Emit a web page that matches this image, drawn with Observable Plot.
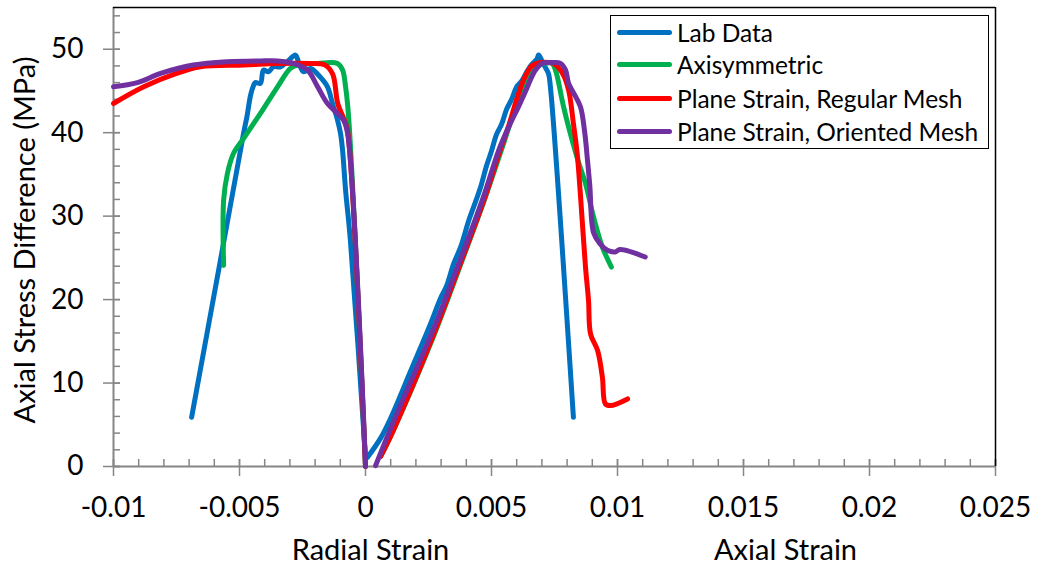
<!DOCTYPE html>
<html><head><meta charset="utf-8">
<script src="https://cdn.jsdelivr.net/npm/d3@7"></script>
<script src="https://cdn.jsdelivr.net/npm/@observablehq/plot@0.6"></script>
<style>
body{margin:0;background:#fff;font-family:Lato,"Open Sans",sans-serif;}
#wrap{position:relative;width:1037px;height:567px;}
#legend{position:absolute;left:610px;top:15px;width:379px;height:134px;border:1.5px solid #000;background:#fff;box-sizing:border-box;}
.row{position:absolute;left:0;height:32px;display:flex;align-items:center;}
.sw{width:55px;height:5px;border-radius:3px;margin-left:6px;margin-right:5px;}
.lab{font-size:24.5px;color:#000;white-space:nowrap;}
</style></head><body>
<div id="wrap"><div id="legend"></div></div>
<script>
// ---- data ----
const seriesNames = ["Lab Data","Axisymmetric","Plane Strain, Regular Mesh","Plane Strain, Oriented Mesh"];
const seriesColors = ["#0070C0","#00B050","#FF0000","#7030A0"];

const labRadial = [[-0.0069,5.9],[-0.0058,24.0],[-0.00484,39.9],[-0.0047,42.0],[-0.00456,44.5],[-0.00445,45.6],[-0.00437,46.0],[-0.00417,45.9],[-0.00405,47.5],[-0.00385,47.3],[-0.00365,47.9],[-0.00337,47.9],[-0.0031,48.5],[-0.00278,49.3],[-0.00266,48.5],[-0.00246,47.3],[-0.00218,47.7],[-0.00187,46.9],[-0.00151,45.5],[-0.00131,43.5],[-0.00111,41.5],[-0.00099,39.9],[-0.00091,37.9],[-0.00079,33.1],[-0.0006,27.1],[0,1.1]];
const labAxial = [[0.00008,1.1],[0.0006,3.4],[0.001,5.8],[0.0018,11.5],[0.0025,16.5],[0.003,20.3],[0.0032,21.5],[0.0035,24.3],[0.0038,26.5],[0.0041,29.5],[0.0044,32.0],[0.0046,33.8],[0.0048,36.0],[0.005,37.8],[0.0052,39.8],[0.0054,41.0],[0.0056,42.8],[0.0058,44.0],[0.006,45.5],[0.0062,46.2],[0.0064,47.3],[0.0066,48.2],[0.0068,48.8],[0.00687,49.3],[0.007,48.6],[0.00714,47.8],[0.00726,47.1],[0.00734,45.4],[0.00825,5.9]];

const axiRadial = [[-0.00563,24.1],[-0.00563,31.9],[-0.00548,35.1],[-0.00524,37.5],[-0.00484,39.3],[-0.00417,42.3],[-0.00349,45.5],[-0.00298,47.7],[-0.0027,48.1],[-0.0019,48.3],[-0.00111,48.3],[-0.00091,47.5],[-0.00079,45.5],[-0.00067,41.9],[0,0]];
const axiAxial = [[0.0006,1.2],[0.0011,4.3],[0.0027,15.6],[0.0037,23.6],[0.0047,31.8],[0.0054,38.0],[0.0059,42.5],[0.0063,45.5],[0.0067,47.8],[0.0071,48.3],[0.0074,48.3],[0.00754,47.5],[0.00786,43.1],[0.00821,39.0],[0.00845,36.5],[0.00873,33.9],[0.00905,29.9],[0.0094,26.3],[0.00976,23.9]];

const regRadial = [[-0.01,43.5],[-0.0088,45.5],[-0.0075,47.1],[-0.00655,47.9],[-0.0048,48.1],[-0.0035,48.3],[-0.0022,48.3],[-0.0016,48.1],[-0.0013,47.0],[-0.0011,43.5],[-0.0008,41.2],[-0.0007,40.0],[0,0]];
const regAxial = [[0.0006,1.2],[0.0011,4.3],[0.0027,15.8],[0.0037,23.8],[0.0047,31.9],[0.0053,37.5],[0.0057,41.0],[0.006,44.0],[0.0063,46.5],[0.0066,48.0],[0.0069,48.4],[0.0073,48.4],[0.00746,48.3],[0.00782,47.1],[0.00806,45.1],[0.00825,41.1],[0.0084,37.5],[0.00853,32.5],[0.00873,23.9],[0.00885,19.9],[0.00893,15.9],[0.00921,13.9],[0.0094,10.7],[0.00952,7.5],[0.00972,7.3],[0.0104,8.1]];

const oriRadial = [[-0.01,45.5],[-0.00905,46.0],[-0.00813,47.1],[-0.00683,48.1],[-0.00548,48.5],[-0.00417,48.6],[-0.00349,48.6],[-0.00286,48.3],[-0.0023,47.5],[-0.0019,45.5],[-0.00151,43.5],[-0.00111,42.3],[-0.00087,41.5],[-0.00071,39.9],[0,0]];
const oriAxial = [[0.0004,0.1],[0.0011,5.3],[0.0027,16.5],[0.0037,24.3],[0.00468,32.3],[0.0053,38.0],[0.0057,40.8],[0.0061,43.3],[0.0064,45.3],[0.0067,47.3],[0.007,48.3],[0.00742,48.4],[0.00774,48.3],[0.00794,47.5],[0.00806,45.9],[0.00825,44.8],[0.00853,43.1],[0.0087,40.0],[0.0088,37.0],[0.0089,33.7],[0.00905,28.0],[0.0093,26.7],[0.0096,25.9],[0.0099,25.7],[0.0101,26.0],[0.0111,25.1]];

const xDomain = [-0.01, 0.025];
const yDomain = [0, 55];
const xTicks = [-0.01,-0.005,0,0.005,0.01,0.015,0.02,0.025];
const xTickLabels = ["-0.01","-0.005","0","0.005","0.01","0.015","0.02","0.025"];
const yTicks = [0,10,20,30,40,50];
const yTickLabels = ["0","10","20","30","40","50"];
const xMinor = d3.range(-10, 26).map(i => i / 1000);
const yMinor = d3.range(0, 56, 2);
const yTitle = "Axial Stress Difference (MPa)";
const xTitle1 = "Radial Strain";
const xTitle2 = "Axial Strain";

// ---- build table ----
const segs = [
  [0, labRadial],[0, labAxial],
  [1, axiRadial],[1, axiAxial],
  [2, regRadial],[2, regAxial],
  [3, oriRadial],[3, oriAxial]
];
const rows = [];
segs.forEach(([s, pts], k) => pts.forEach(([x, y]) => rows.push({series: seriesNames[s], seg: k, x, y})));

const W = 1037, H = 567, mL = 113, mR = 42, mT = 7, mB = 101;
const plotW = W - mL - mR, plotH = H - mT - mB;
const grey = "#868686";
const tickFont = 28, titleFont = 29;
const xLab = new Map(xTicks.map((t, i) => [t, xTickLabels[i]]));
const yLab = new Map(yTicks.map((t, i) => [t, yTickLabels[i]]));

const chart = Plot.plot({
  width: W, height: H,
  marginLeft: mL, marginRight: mR, marginTop: mT, marginBottom: mB,
  x: {domain: xDomain},
  y: {domain: yDomain},
  color: {domain: seriesNames, range: seriesColors},
  style: {fontFamily: "Lato, 'Open Sans', sans-serif", fontSize: tickFont + "px", color: "#000", background: "#fff"},
  marks: [
    Plot.tickX(xMinor, {x: d => d, stroke: grey, strokeWidth: 1.5, insetTop: plotH - 7}),
    Plot.tickX(xTicks, {x: d => d, stroke: grey, strokeWidth: 1.5, insetTop: plotH - 7, insetBottom: -10}),
    Plot.tickY(yMinor, {y: d => d, stroke: grey, strokeWidth: 1.5, insetRight: plotW - 7}),
    Plot.tickY(yTicks, {y: d => d, stroke: grey, strokeWidth: 1.5, insetRight: plotW - 7, insetLeft: -10}),
    Plot.ruleX([xDomain[0]], {stroke: grey, strokeWidth: 2}),
    Plot.ruleY([yDomain[0]], {stroke: grey, strokeWidth: 2}),
    Plot.ruleY([yDomain[1]], {stroke: "#000", strokeWidth: 1.5}),
    Plot.ruleX([xDomain[1]], {stroke: "#000", strokeWidth: 1.5}),
    Plot.axisX(xTicks, {tickSize: 0, tickPadding: 31, tickFormat: d => xLab.get(d), fontSize: tickFont, label: null}),
    Plot.axisY(yTicks, {tickSize: 0, tickPadding: 30, tickFormat: d => yLab.get(d), fontSize: tickFont, label: null}),
    Plot.line(rows, {x: "x", y: "y", z: "seg", stroke: "series", strokeWidth: 5, strokeLinejoin: "round", strokeLinecap: "round", curve: "catmull-rom"}),
    Plot.text([xTitle1], {text: d => d, frameAnchor: "bottom-left", dx: 370 - mL, dy: 73, lineAnchor: "top", textAnchor: "middle", fontSize: titleFont}),
    Plot.text([xTitle2], {text: d => d, frameAnchor: "bottom-left", dx: 785 - mL, dy: 73, lineAnchor: "top", textAnchor: "middle", fontSize: titleFont}),
    Plot.text([yTitle], {text: d => d, frameAnchor: "left", rotate: -90, dx: 25 - mL, dy: 3, textAnchor: "middle", fontSize: titleFont})
  ]
});
const wrap = document.getElementById("wrap");
wrap.insertBefore(chart, wrap.firstChild);

// legend
const legend = document.getElementById("legend");
const rowCenters = [16, 48, 82, 115];
seriesNames.forEach((n, i) => {
  const r = document.createElement("div");
  r.className = "row";
  r.style.top = (rowCenters[i] - 16) + "px";
  r.innerHTML = `<div class="sw" style="background:${seriesColors[i]}"></div><span class="lab">${n}</span>`;
  legend.appendChild(r);
});
</script>
</body></html>
